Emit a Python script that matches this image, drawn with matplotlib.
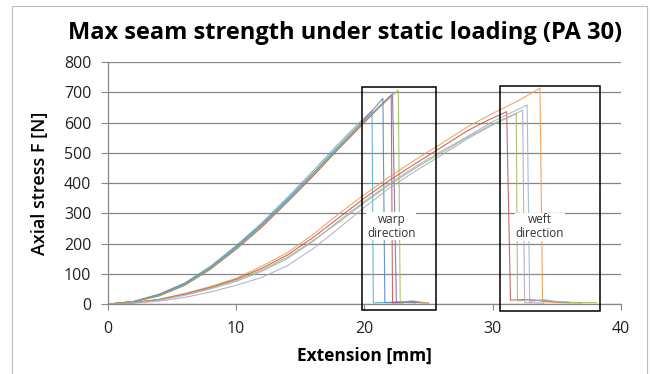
import matplotlib
matplotlib.use("Agg")
import matplotlib.pyplot as plt
from matplotlib.patches import Rectangle
from matplotlib.lines import Line2D

# excel-2007 style series colours
blue = '#4F81BD'
red = '#C0504D'
green = '#9BBB59'
purple = '#8064A2'
cyan = '#4BACC6'
orange = '#F79646'

# warp direction samples (extension mm, force N)
warp_cyan_x = [0, 2, 4, 6, 8, 10, 12, 14, 16, 18, 19.5, 20.6, 20.7, 21.5, 23.0]
warp_cyan_y = [0, 9, 33, 70, 125, 193, 268, 352, 440, 530, 595, 639, 4, 5, 3]
warp_blue_x = [0, 2, 4, 6, 8, 10, 12, 14, 16, 18, 19.8, 21.45, 21.6, 22.5, 24.0]
warp_blue_y = [0, 8, 31, 67, 121, 189, 263, 346, 432, 522, 600, 680, 5, 7, 4]
warp_red_x = [0, 2, 4, 6, 8, 10, 12, 14, 16, 18, 20, 22.1, 22.2, 23.5, 25.0]
warp_red_y = [0, 7, 27, 62, 115, 181, 254, 337, 423, 513, 600, 690, 4, 9, 3]
warp_purple_x = [0, 2, 4, 6, 8, 10, 12, 14, 16, 18, 20, 22.2, 22.5, 23.5, 24.5]
warp_purple_y = [0, 8, 29, 65, 118, 185, 259, 342, 428, 518, 606, 695, 5, 8, 4]
warp_green_x = [0, 2, 4, 6, 8, 10, 12, 14, 16, 18, 20, 22.65, 22.8, 23.8, 24.7]
warp_green_y = [0, 8, 29, 64, 117, 184, 258, 341, 428, 518, 605, 707, 6, 11, 4]

# weft direction samples
weft_orange_x = [0, 2, 4, 6, 8, 10, 12, 14, 16, 18, 20, 22, 24, 26, 28, 30, 32, 33.7, 33.9, 35, 37]
weft_orange_y = [0, 5, 16, 35, 58, 85, 125, 170, 230, 298, 362, 422, 478, 530, 585, 630, 672, 714, 8, 5, 3]
weft_red_x = [0, 2, 4, 6, 8, 10, 12, 14, 16, 18, 20, 22, 24, 26, 28, 29.5, 31.1, 31.4, 32.5, 34, 36]
weft_red_y = [0, 5, 15, 33, 55, 82, 118, 162, 220, 285, 350, 410, 465, 518, 572, 605, 636, 13, 15, 10, 5]
weft_green_x = [0, 2, 4, 6, 8, 10, 12, 14, 16, 18, 20, 22, 24, 26, 28, 30, 31.85, 31.95, 33, 35, 36.5, 38.1]
weft_green_y = [0, 4, 14, 31, 52, 78, 112, 155, 210, 270, 335, 395, 450, 500, 550, 595, 630, 10, 15, 8, 5, 5]
weft_blue_x = [0, 2, 4, 6, 8, 10, 12, 14, 16, 18, 20, 22, 24, 26, 28, 30, 32.7, 32.9, 34, 35.5]
weft_blue_y = [0, 4, 13, 29, 50, 75, 108, 150, 207, 275, 340, 400, 455, 505, 553, 603, 658, 8, 15, 5]
weft_purple_x = [0, 2, 4, 6, 8, 10, 12, 14, 16, 18, 20, 22, 24, 26, 28, 30, 32.35, 32.5, 34]
weft_purple_y = [0, 3, 10, 22, 40, 62, 88, 127, 183, 250, 320, 385, 440, 492, 545, 592, 641, 5, 3]

warp_box = (19.8, -20, 25.6, 717)
weft_box = (30.6, -22, 38.35, 720)

series = [
    (warp_cyan_x, warp_cyan_y, cyan),
    (warp_blue_x, warp_blue_y, blue),
    (warp_red_x, warp_red_y, red),
    (warp_purple_x, warp_purple_y, purple),
    (warp_green_x, warp_green_y, green),
    (weft_orange_x, weft_orange_y, orange),
    (weft_red_x, weft_red_y, red),
    (weft_green_x, weft_green_y, green),
    (weft_blue_x, weft_blue_y, '#95B3D7'),
    (weft_purple_x, weft_purple_y, '#B3A2C7'),
]

grey = '#878787'
plt.rcParams['font.family'] = ['Open Sans', 'DejaVu Sans']

fig = plt.figure(figsize=(6.5, 3.74), dpi=100)
ax = fig.add_axes([0.166, 0.187, 0.789, 0.647])

for x, y, c in series:
    ax.plot(x, y, color=c, lw=0.8, alpha=0.85)

for x0, y0, x1, y1 in (warp_box, weft_box):
    ax.add_patch(Rectangle((x0, y0), x1 - x0, y1 - y0, fill=False,
                           edgecolor='black', lw=1.1, clip_on=False, zorder=5))

bb = dict(facecolor='white', edgecolor='none', pad=0.5)
ax.text(22.1, 258, 'warp\ndirection', ha='center', va='center', fontsize=8.5,
        color='#333333', linespacing=1.1, bbox=bb, zorder=6)
ax.text(33.7, 255, 'weft\ndirection', ha='center', va='center', fontsize=8.5,
        color='#333333', linespacing=1.1, bbox=bb, zorder=6)

ax.set_xlim(0, 40)
ax.set_ylim(0, 800)
ax.set_xticks([0, 10, 20, 30, 40])
ax.set_yticks(range(0, 801, 100))
ax.yaxis.grid(True, color=grey, lw=0.9)
ax.set_axisbelow(True)
for side in ('top', 'right'):
    ax.spines[side].set_visible(False)
for side in ('left', 'bottom'):
    ax.spines[side].set_color(grey)
    ax.spines[side].set_linewidth(0.9)
ax.tick_params(axis='x', length=4, color=grey, pad=8, labelsize=11.5, labelcolor='#222222')
ax.tick_params(axis='y', length=5, color=grey, pad=7, labelsize=11.5, labelcolor='#222222')

ax.set_xlabel('Extension [mm]', fontsize=12.5, fontweight='bold', labelpad=7)
ax.set_ylabel('Axial stress F [N]', fontsize=13, fontweight='semibold', labelpad=11)
fig.text(0.531, 0.912, 'Max seam strength under static loading (PA 30)',
         ha='center', va='center', fontsize=17, fontweight='bold')

# chart area frame
fc = '#BFBFBF'
fig.add_artist(Line2D([12 / 650, 12 / 650], [0, 1 - 6 / 374], color=fc, lw=0.8))
fig.add_artist(Line2D([12 / 650, 647 / 650], [1 - 6 / 374, 1 - 6 / 374], color=fc, lw=0.8))
fig.add_artist(Line2D([647 / 650, 647 / 650], [0, 1 - 6 / 374], color=fc, lw=0.8))

plt.savefig('out.png', dpi=100)
